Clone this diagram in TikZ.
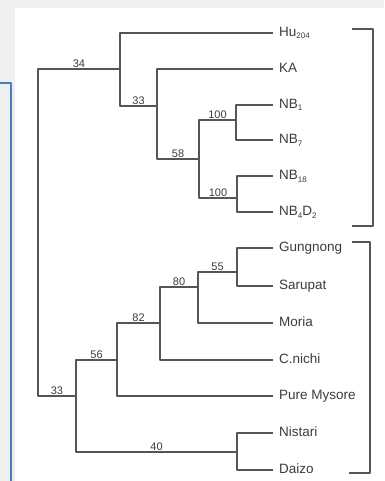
\documentclass[tikz,border=0pt]{standalone}
\usepackage{fontspec}
\setmainfont{Liberation Sans}
\definecolor{panelgray}{HTML}{EFEFEF}
\definecolor{frameblue}{HTML}{4A7CC0}
\definecolor{treegray}{HTML}{555555}
\definecolor{labelgray}{HTML}{3C3C3C}
\newcommand{\lowsub}[1]{\raisebox{-2.5pt}{\fontsize{8}{8}\selectfont #1}}
\tikzset{
	branch/.style={line width=1.4pt, color=treegray, line cap=rect},
	boot/.style={pos=0.75, above, inner sep=0.6pt, text=labelgray, font=\fontsize{11}{11}\selectfont},
	leaf/.style={anchor=west, inner xsep=7pt, inner ysep=0pt, text height=7pt, text depth=0pt, text=labelgray, font=\fontsize{13.5}{13.5}\selectfont},
	bracket/.style={line width=1.4pt, color=treegray}
}

\begin{document}
\begin{tikzpicture}[line join=round,x=1pt,y=-1pt]
	\useasboundingbox (0,0) rectangle (384,481);
	\fill[panelgray] (0,0) rectangle (384,481);
	\fill[white] (15,8) rectangle (384,481);
	\draw[frameblue,line width=1.6pt] (0,83) -- (11,83) -- (11,481);
	% leaves
	\node[leaf] (hu) at (272,33) {Hu\lowsub{204}};
	\node[leaf] (ka) at (272,69) {KA};
	\node[leaf] (nbone) at (272,105) {NB\lowsub{1}};
	\node[leaf] (nbseven) at (272,140) {NB\lowsub{7}};
	\node[leaf] (nbeighteen) at (272,176) {NB\lowsub{18}};
	\node[leaf] (nbfour) at (272,212) {NB\lowsub{4}D\lowsub{2}};
	\node[leaf] (gung) at (272,248) {Gungnong};
	\node[leaf] (saru) at (272,286) {Sarupat};
	\node[leaf] (moria) at (272,323) {Moria};
	\node[leaf] (cnichi) at (272,360) {C.nichi};
	\node[leaf] (pure) at (272,396) {Pure Mysore};
	\node[leaf] (nist) at (272,433) {Nistari};
	\node[leaf] (daizo) at (272,470) {Daizo};
	% splits
	\coordinate (root) at (38,232);
	\coordinate (cone) at (236,120);
	\coordinate (ctwo) at (237,198);
	\coordinate (cthree) at (199,159);
	\coordinate (cfour) at (157,106);
	\coordinate (cfive) at (120,69);
	\coordinate (gone) at (237,272);
	\coordinate (gtwo) at (198,287);
	\coordinate (gthree) at (160,323);
	\coordinate (gfour) at (117,360);
	\coordinate (gfive) at (237,452);
	\coordinate (gsix) at (76,396);
	% upper clade
	\draw[branch] (cone) |- (nbone.west);
	\draw[branch] (cone) |- (nbseven.west);
	\draw[branch] (ctwo) |- (nbeighteen.west);
	\draw[branch] (ctwo) |- (nbfour.west);
	\draw[branch] (cthree) |- node[boot] {100} (cone);
	\draw[branch] (cthree) |- node[boot] {100} (ctwo);
	\draw[branch] (cfour) |- (ka.west);
	\draw[branch] (cfour) |- node[boot] {58} (cthree);
	\draw[branch] (cfive) |- (hu.west);
	\draw[branch] (cfive) |- node[boot] {33} (cfour);
	% lower clade
	\draw[branch] (gone) |- (gung.west);
	\draw[branch] (gone) |- (saru.west);
	\draw[branch] (gtwo) |- node[boot] {55} (gone);
	\draw[branch] (gtwo) |- (moria.west);
	\draw[branch] (gthree) |- node[boot] {80} (gtwo);
	\draw[branch] (gthree) |- (cnichi.west);
	\draw[branch] (gfour) |- node[boot] {82} (gthree);
	\draw[branch] (gfour) |- (pure.west);
	\draw[branch] (gfive) |- (nist.west);
	\draw[branch] (gfive) |- (daizo.west);
	\draw[branch] (gsix) |- node[boot] {56} (gfour);
	\draw[branch] (gsix) |- node[boot] {40} (gfive);
	\draw[branch] (root) |- node[boot] {34} (cfive);
	\draw[branch] (root) |- node[boot] {33} (gsix);
	% group brackets
	\draw[bracket] (352,29) -- (373,29) -- (373,226) -- (352,226);
	\draw[bracket] (352,242) -- (370,242) -- (370,473) -- (349,473);
\end{tikzpicture}
\end{document}
